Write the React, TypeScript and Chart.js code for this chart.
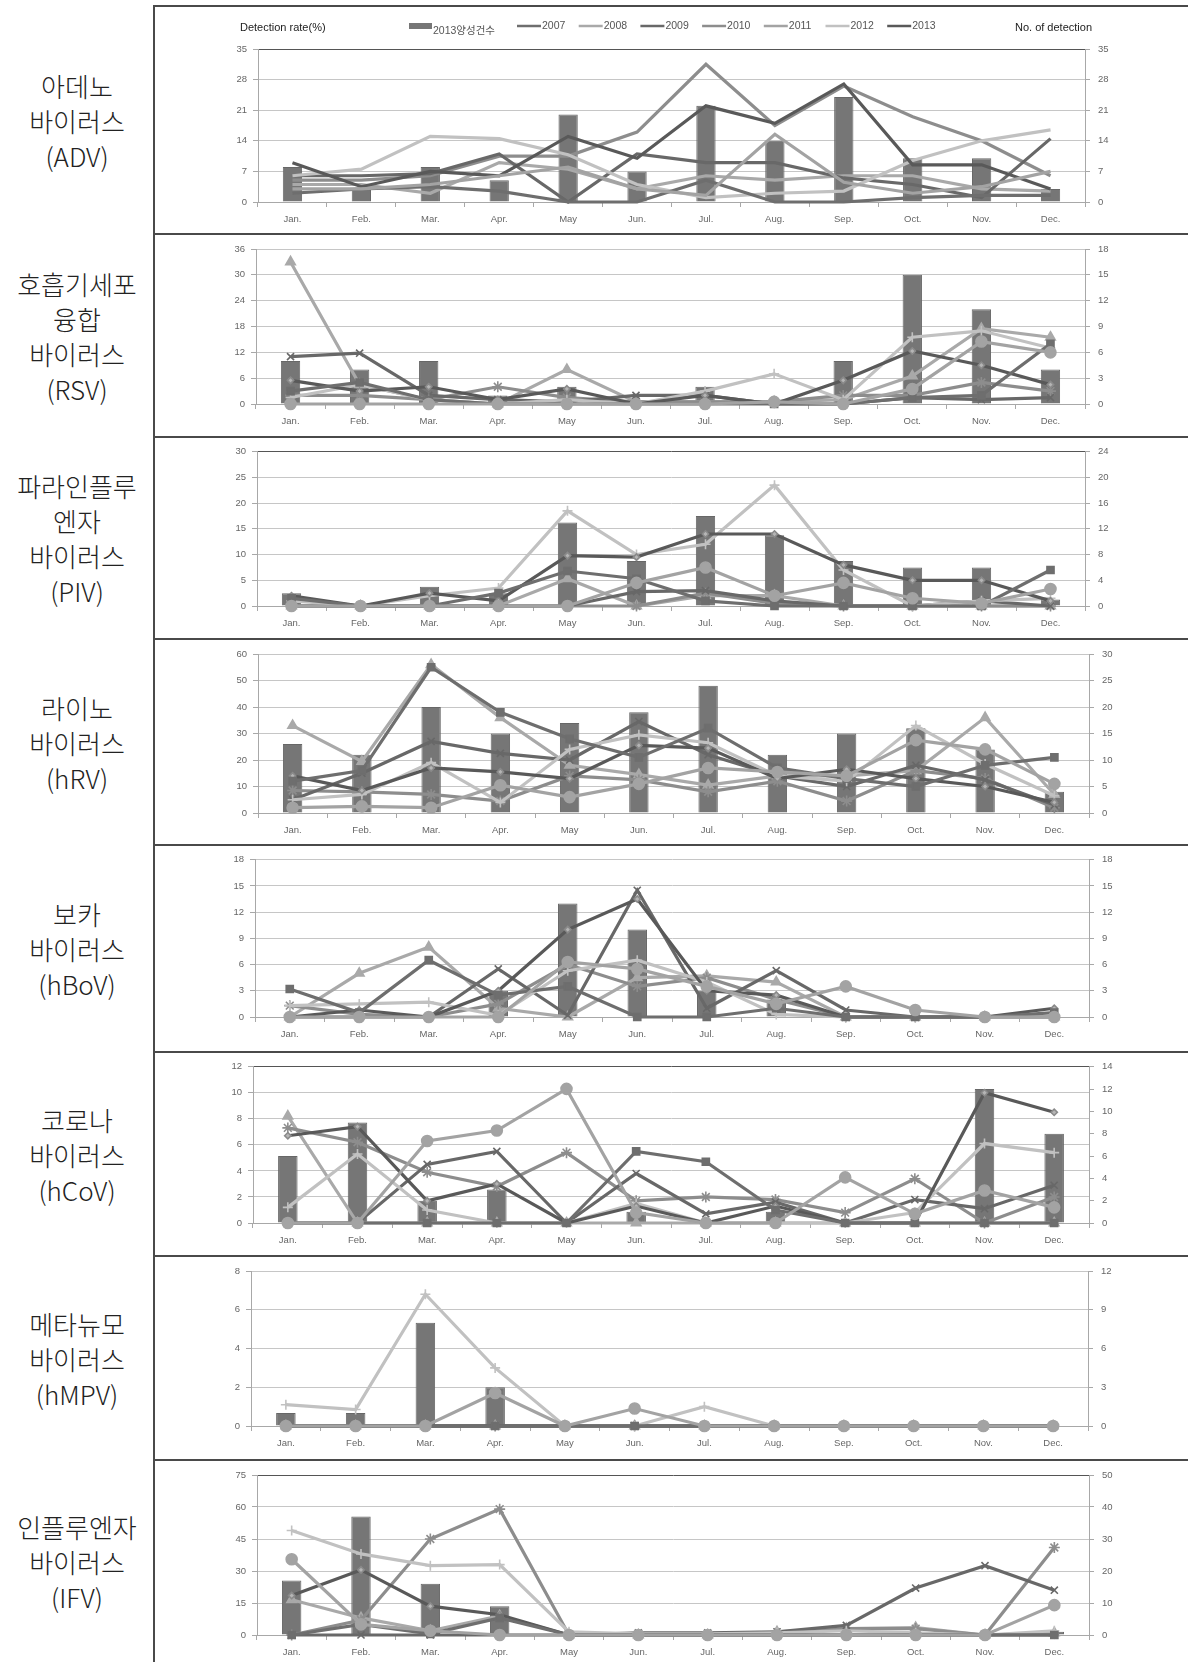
import React, { useEffect, useRef } from "react";
import { Chart, registerables } from "chart.js";

Chart.register(...registerables);

// ---- data ----
const MONTHS = ["Jan.", "Feb.", "Mar.", "Apr.", "May", "Jun.", "Jul.", "Aug.", "Sep.", "Oct.", "Nov.", "Dec."];
const YEARS = ["2007", "2008", "2009", "2010", "2011", "2012", "2013"];
const BAR_LABEL = "2013양성건수";
const LEFT_TITLE = "Detection rate(%)";
const RIGHT_TITLE = "No. of detection";

// adenovirus
const ADV_NAME = ["아데노", "바이러스", "(ADV)"];
const ADV_COUNTS = [8, 3, 8, 5, 20, 7, 22, 14, 24, 10, 10, 3];
const ADV_RATES = [
  [2, 3, 3.5, 2.5, 0, 0, 5, 0, 0, 1, 1.5, 1.5],
  [4, 4, 2, 9, 7.5, 3, 6, 5, 6, 6, 3, 2.5],
  [6, 6, 6.5, 11, 0, 11, 9, 9, 5.5, 4, 1, 14.5],
  [5, 5, 6, 10.5, 10.5, 16, 31.5, 17.5, 26.5, 19.5, 14, 6],
  [3, 3, 4, 6, 8, 3, 1.5, 15.5, 4.5, 2, 3.5, 7],
  [6, 7.5, 15, 14.5, 10.8, 4, 1, 2, 2.5, 9.5, 14, 16.5],
  [9, 3.5, 7, 6, 15, 10, 22, 18, 27, 8.5, 8.5, 3],
];
const ADV_LEFT_TICKS = [35, 7];
const ADV_RIGHT_TICKS = [35, 7];

// respiratory syncytial virus
const RSV_NAME = ["호흡기세포", "융합", "바이러스", "(RSV)"];
const RSV_COUNTS = [5, 4, 5, 1, 2, 0, 2, 0, 5, 15, 11, 4];
const RSV_RATES = [
  [3, 5, 1, 0, 0, 0, 0, 0, 0, 1.5, 2, 14],
  [33, 4.5, 1, 0, 8, 0.5, 0.5, 0.5, 1, 6.5, 17.5, 15.5],
  [11, 11.8, 2, 1, 0.5, 2, 2, 0, 0, 1.5, 1, 1.5],
  [2, 2, 1, 4, 1.5, 0.5, 0.5, 0.5, 2, 2, 5, 3],
  [0, 0, 0, 0, 0, 0, 0, 0.5, 0, 3.5, 14.5, 12],
  [1.5, 4.5, 1, 0, 1, 0, 3, 7, 1, 15.5, 17, 13],
  [5.5, 3, 4, 1, 3.5, 0, 2, 0, 5.5, 12.3, 9, 4.5],
];
const RSV_LEFT_TICKS = [36, 6];
const RSV_RIGHT_TICKS = [18, 3];

// parainfluenza virus
const PIV_NAME = ["파라인플루", "엔자", "바이러스", "(PIV)"];
const PIV_COUNTS = [2, 0, 3, 2, 13, 7, 14, 11, 7, 6, 6, 1];
const PIV_RATES = [
  [1.5, 0, 0, 2.5, 6.8, 5.3, 1, 0, 0, 0, 0, 7],
  [0, 0, 0, 0, 5.3, 0, 2, 2, 0, 0, 0, 0],
  [0, 0, 0, 0, 0, 2.8, 3, 1, 0, 0, 1, 0],
  [0, 0, 0, 0, 0, 0, 2.5, 0.5, 0, 0, 0, 0],
  [0, 0, 0, 0, 0, 4.5, 7.5, 2, 4.5, 1.5, 0.5, 3.3],
  [1, 0, 2, 3.5, 18.5, 10, 12, 23.5, 7, 0, 1, 1.5],
  [2, 0, 2.5, 1, 9.8, 9.5, 14, 14, 8, 5, 5, 1],
];
const PIV_LEFT_TICKS = [30, 5];
const PIV_RIGHT_TICKS = [24, 4];

// rhinovirus
const HRV_NAME = ["라이노", "바이러스", "(hRV)"];
const HRV_COUNTS = [13, 11, 20, 15, 17, 19, 24, 11, 15, 16, 12, 4];
const HRV_RATES = [
  [12, 16, 55, 38, 28, 21, 32, 17, 13, 10, 18, 21],
  [33, 19.5, 56, 36, 18, 14.5, 10.5, 14, 14, 16, 36, 7],
  [5, 15, 27, 22.5, 20, 34.5, 22, 14, 10, 18, 12.5, 3],
  [8.5, 8, 7, 4.5, 14, 12.5, 8, 12, 4.5, 16, 13, 2],
  [2, 2.5, 2, 10.5, 6, 11, 17, 15.5, 14, 27.5, 24, 11],
  [5, 7, 19, 4, 24, 29.5, 26.5, 14, 12, 33, 18.5, 6.5],
  [14, 8.5, 17, 15.5, 13, 25.5, 24.5, 13, 16.5, 13, 10, 4],
];
const HRV_LEFT_TICKS = [60, 10];
const HRV_RIGHT_TICKS = [30, 5];

// bocavirus
const HBOV_NAME = ["보카", "바이러스", "(hBoV)"];
const HBOV_COUNTS = [0, 0, 0, 3, 13, 10, 3, 2, 0, 0, 0, 0];
const HBOV_RATES = [
  [3.2, 0.5, 6.5, 2.5, 3.5, 0, 0, 1, 0, 0, 0, 0.5],
  [0, 5, 8, 1, 0, 4.5, 4.7, 4, 0, 0, 0, 0],
  [0, 0, 0, 5.5, 0.2, 14.5, 1, 5.3, 0.8, 0, 0, 0],
  [1.3, 0.3, 0, 1.5, 6, 3.5, 4.5, 2, 0, 0, 0, 0],
  [0, 0, 0, 0, 6.3, 5.5, 3.5, 1.5, 3.5, 0.8, 0, 0],
  [1.3, 1.5, 1.7, 0.2, 5.3, 6.5, 4, 0.3, 0, 0, 0, 0],
  [0, 0.8, 0, 3, 10, 13.5, 3, 2.5, 0, 0, 0, 1],
];
const HBOV_LEFT_TICKS = [18, 3];
const HBOV_RIGHT_TICKS = [18, 3];

// coronavirus
const HCOV_NAME = ["코로나", "바이러스", "(hCoV)"];
const HCOV_COUNTS = [6, 9, 2, 3, 0, 1, 0, 1, 0, 0, 12, 8];
const HCOV_RATES = [
  [0, 0, 0, 0, 0, 5.5, 4.7, 1, 0, 0, 0, 0],
  [8.2, 0, 0, 0, 0, 0, 0, 0, 0, 0, 0, 0],
  [0, 0, 4.5, 5.5, 0, 3.8, 0.7, 1.6, 0, 1.8, 1.1, 2.9],
  [7.3, 6.2, 3.9, 2.8, 5.4, 1.7, 2, 1.8, 0.8, 3.4, 0, 2],
  [0, 0, 6.3, 7.1, 10.3, 0.8, 0, 0, 3.5, 0.7, 2.5, 1.2],
  [1.2, 5.3, 1, 0, 0, 1.5, 0, 0, 0, 0.8, 6.1, 5.4],
  [6.7, 7.4, 1.7, 3, 0, 1.3, 0, 1.3, 0, 0, 10, 8.5],
];
const HCOV_LEFT_TICKS = [12, 2];
const HCOV_RIGHT_TICKS = [14, 2];

// metapneumovirus
const HMPV_NAME = ["메타뉴모", "바이러스", "(hMPV)"];
const HMPV_COUNTS = [1, 1, 8, 3, 0, 0, 0, 0, 0, 0, 0, 0];
const HMPV_RATES = [
  [0, 0, 0, 0, 0, 0, 0, 0, 0, 0, 0, 0],
  [0, 0, 0, 0, 0, 0, 0, 0, 0, 0, 0, 0],
  [0, 0, 0, 0, 0, 0, 0, 0, 0, 0, 0, 0],
  [0, 0, 0, 0, 0, 0, 0, 0, 0, 0, 0, 0],
  [0, 0, 0, 1.7, 0, 0.9, 0, 0, 0, 0, 0, 0],
  [1.1, 0.85, 6.8, 3, 0, 0, 1, 0, 0, 0, 0, 0],
  [0, 0, 0, 0, 0, 0, 0, 0, 0, 0, 0, 0],
];
const HMPV_LEFT_TICKS = [8, 2];
const HMPV_RIGHT_TICKS = [12, 3];

// influenza virus
const IFV_NAME = ["인플루엔자", "바이러스", "(IFV)"];
const IFV_COUNTS = [17, 37, 16, 9, 0, 0, 0, 0, 0, 0, 0, 1];
const IFV_RATES = [
  [0, 5, 0.5, 8, 0, 0, 0, 0, 0, 0, 0, 0],
  [16.5, 8, 2, 9, 0, 0, 0, 1.5, 3, 3.5, 0, 1],
  [0, 0, 0, 0, 0, 1, 1, 1.5, 4.5, 22, 32.5, 21],
  [0, 7, 45, 59, 0, 0, 0, 0, 3, 3, 0, 41],
  [35.5, 5, 2, 0, 0, 0, 0, 0, 0, 0, 0, 14],
  [49, 38, 32.5, 33, 1.5, 0.5, 0.5, 1, 2, 1, 0, 2],
  [18.5, 30.5, 13.5, 9.5, 0, 0, 0, 0, 0, 0, 0, 0],
];
const IFV_LEFT_TICKS = [75, 15];
const IFV_RIGHT_TICKS = [50, 10];

const PANELS = [
  { name: ADV_NAME, counts: ADV_COUNTS, rates: ADV_RATES, leftTicks: ADV_LEFT_TICKS, rightTicks: ADV_RIGHT_TICKS },
  { name: RSV_NAME, counts: RSV_COUNTS, rates: RSV_RATES, leftTicks: RSV_LEFT_TICKS, rightTicks: RSV_RIGHT_TICKS },
  { name: PIV_NAME, counts: PIV_COUNTS, rates: PIV_RATES, leftTicks: PIV_LEFT_TICKS, rightTicks: PIV_RIGHT_TICKS },
  { name: HRV_NAME, counts: HRV_COUNTS, rates: HRV_RATES, leftTicks: HRV_LEFT_TICKS, rightTicks: HRV_RIGHT_TICKS },
  { name: HBOV_NAME, counts: HBOV_COUNTS, rates: HBOV_RATES, leftTicks: HBOV_LEFT_TICKS, rightTicks: HBOV_RIGHT_TICKS },
  { name: HCOV_NAME, counts: HCOV_COUNTS, rates: HCOV_RATES, leftTicks: HCOV_LEFT_TICKS, rightTicks: HCOV_RIGHT_TICKS },
  { name: HMPV_NAME, counts: HMPV_COUNTS, rates: HMPV_RATES, leftTicks: HMPV_LEFT_TICKS, rightTicks: HMPV_RIGHT_TICKS },
  { name: IFV_NAME, counts: IFV_COUNTS, rates: IFV_RATES, leftTicks: IFV_LEFT_TICKS, rightTicks: IFV_RIGHT_TICKS },
];

// ---- layout & styling ----
const PAGE_W = 1188;
const PAGE_H = 1662;
const LABEL_COL_W = 154;
const CANVAS_LEFT = 156;
const CANVAS_W = PAGE_W - CANVAS_LEFT;

// row bounds, plot top / zero line, plot left / right (page pixels)
const FRAMES = [
  { top: 6, bottom: 234, gridTop: 49, zero: 202, left: 258, right: 1085, darkTop: true },
  { top: 234, bottom: 437, gridTop: 249, zero: 404, left: 256, right: 1085, darkTop: false },
  { top: 437, bottom: 639, gridTop: 450, zero: 606, left: 257, right: 1085, darkTop: true },
  { top: 639, bottom: 845, gridTop: 654, zero: 813, left: 258, right: 1089, darkTop: false },
  { top: 845, bottom: 1052, gridTop: 859, zero: 1017, left: 255, right: 1089, darkTop: false },
  { top: 1052, bottom: 1256, gridTop: 1066, zero: 1223, left: 253, right: 1089, darkTop: true },
  { top: 1256, bottom: 1460, gridTop: 1271, zero: 1426, left: 251, right: 1088, darkTop: false },
  { top: 1460, bottom: 1662, gridTop: 1475, zero: 1635, left: 257, right: 1089, darkTop: true },
];

const SERIES_COLORS = ["#6e6e6e", "#a9a9a9", "#686868", "#8d8d8d", "#a3a3a3", "#c1c1c1", "#595959"];
const SERIES_FILLS = ["#6e6e6e", "#a9a9a9", "#686868", "#8d8d8d", "#a3a3a3", "#c1c1c1", "#b5b5b5"];
const SERIES_MARKERS = ["rect", "triangle", "crossRot", "star", "circle", "cross", "rectRot"];
const SERIES_MARKER_R = [5, 5.5, 5, 5.5, 5.5, 5, 3.2];
const SERIES_ORDER = [2, 7, 5, 6, 1, 4, 3];
const BAR_COLOR = "#767676";
const GRID_COLOR = "#c6c6c6";
const AXIS_COLOR = "#a8a8a8";
const TICK_COLOR = "#666666";
const FONT_FAMILY = "'Liberation Sans', Arial, 'Noto Sans CJK KR', sans-serif";

// legend and axis headings drawn above the first plot
const headerPlugin = {
  id: "panelHeader",
  afterDraw(chart: any) {
    const ctx = chart.ctx as CanvasRenderingContext2D;
    const ox = CANVAS_LEFT;
    const oy = FRAMES[0].top + 1;
    ctx.save();
    ctx.textBaseline = "middle";
    ctx.fillStyle = "#222";
    ctx.font = `11px ${FONT_FAMILY}`;
    ctx.textAlign = "left";
    ctx.fillText(LEFT_TITLE, 240 - ox, 28 - oy);
    ctx.textAlign = "right";
    ctx.fillText(RIGHT_TITLE, 1092 - ox, 28 - oy);

    ctx.textAlign = "left";
    ctx.fillStyle = BAR_COLOR;
    ctx.fillRect(409 - ox, 23 - oy, 23, 6);
    ctx.fillStyle = "#555";
    ctx.font = `10.5px ${FONT_FAMILY}`;
    ctx.fillText(BAR_LABEL, 433 - ox, 31 - oy);

    YEARS.forEach((y, i) => {
      const x0 = 517 + i * 61.7 - ox;
      ctx.strokeStyle = SERIES_COLORS[i];
      ctx.lineWidth = 2.5;
      ctx.beginPath();
      ctx.moveTo(x0, 26 - oy);
      ctx.lineTo(x0 + 24, 26 - oy);
      ctx.stroke();
      ctx.fillStyle = "#555";
      ctx.fillText(y, x0 + 25, 26 - oy);
    });
    ctx.restore();
  },
};

function VirusChart({ index }: { index: number }) {
  const ref = useRef<HTMLCanvasElement | null>(null);
  const frame = FRAMES[index];
  const canvasTop = frame.top + 1;
  const canvasHeight = frame.bottom - canvasTop;

  useEffect(() => {
    const panel = PANELS[index];
    const tickFont = { family: FONT_FAMILY, size: 9.5 };
    const [leftMax, leftStep] = panel.leftTicks;
    const [rightMax, rightStep] = panel.rightTicks;
    const showMarkers = index !== 0;

    const datasets: any[] = [
      {
        type: "bar",
        label: BAR_LABEL,
        data: panel.counts,
        yAxisID: "y1",
        backgroundColor: BAR_COLOR,
        borderColor: "#676767",
        borderWidth: 1,
        barPercentage: 0.28,
        categoryPercentage: 1,
        order: 20,
      },
      ...YEARS.map((year, i) => ({
        type: "line",
        label: year,
        data: panel.rates[i],
        yAxisID: "y",
        borderColor: SERIES_COLORS[i],
        backgroundColor: SERIES_FILLS[i],
        borderWidth: 3.2,
        tension: 0,
        pointStyle: SERIES_MARKERS[i],
        pointRadius: showMarkers ? SERIES_MARKER_R[i] : 0,
        pointBorderWidth: 1.6,
        pointBorderColor: i === 6 ? "#8a8a8a" : SERIES_COLORS[i],
        pointBackgroundColor: SERIES_FILLS[i],
        order: SERIES_ORDER[i],
        clip: false,
      })),
    ];

    const chart = new Chart(ref.current as HTMLCanvasElement, {
      type: "bar",
      data: { labels: MONTHS, datasets },
      plugins: index === 0 ? [headerPlugin] : [],
      options: {
        animation: false,
        responsive: false,
        maintainAspectRatio: false,
        devicePixelRatio: 1,
        events: [],
        layout: { padding: { top: frame.gridTop - canvasTop, left: 0, right: 0, bottom: 0 } },
        plugins: { legend: { display: false }, tooltip: { enabled: false }, title: { display: false } },
        scales: {
          x: {
            offset: true,
            grid: { display: true, drawOnChartArea: false, drawTicks: true, tickLength: 5, color: AXIS_COLOR, offset: true },
            border: { color: AXIS_COLOR, width: 1 },
            ticks: { font: tickFont, color: TICK_COLOR, padding: 7, maxRotation: 0, autoSkip: false },
            afterFit: (s: any) => {
              s.height = canvasHeight - (frame.zero - canvasTop);
            },
          },
          y: {
            position: "left",
            min: 0,
            max: leftMax,
            ticks: { stepSize: leftStep, font: tickFont, color: TICK_COLOR, padding: 6 },
            grid: {
              color: (c: any) => (frame.darkTop && c.tick && c.tick.value === leftMax ? "#555555" : GRID_COLOR),
              tickColor: AXIS_COLOR,
              tickLength: 5,
              lineWidth: 1,
            },
            border: { color: AXIS_COLOR, width: 1 },
            afterFit: (s: any) => {
              s.width = frame.left - CANVAS_LEFT;
            },
          },
          y1: {
            position: "right",
            min: 0,
            max: rightMax,
            ticks: { stepSize: rightStep, font: tickFont, color: TICK_COLOR, padding: 8 },
            grid: { drawOnChartArea: false, drawTicks: true, tickLength: 5, color: AXIS_COLOR },
            border: { color: AXIS_COLOR, width: 1 },
            afterFit: (s: any) => {
              s.width = PAGE_W - frame.right;
            },
          },
        },
      } as any,
    } as any);

    return () => chart.destroy();
  }, [index]);

  return (
    <canvas
      ref={ref}
      width={CANVAS_W}
      height={canvasHeight}
      style={{ position: "absolute", left: CANVAS_LEFT, top: canvasTop, width: CANVAS_W, height: canvasHeight }}
    />
  );
}

export default function App() {
  return (
    <div style={{ position: "relative", width: PAGE_W, height: PAGE_H, background: "#fff", overflow: "hidden" }}>
      <style>{"body{margin:0;background:#fff}"}</style>
      {PANELS.map((p, i) => (
        <div
          key={`name-${i}`}
          style={{
            position: "absolute",
            left: 0,
            top: FRAMES[i].top,
            width: LABEL_COL_W,
            height: FRAMES[i].bottom - FRAMES[i].top,
            display: "flex",
            flexDirection: "column",
            justifyContent: "center",
            alignItems: "center",
            fontFamily: "'Noto Sans CJK KR', 'Noto Sans', sans-serif",
            fontSize: 26,
            fontWeight: 300,
            lineHeight: "35px",
            color: "#222",
          }}
        >
          {p.name.map((line, j) => (
            <div key={j}>{line}</div>
          ))}
        </div>
      ))}
      {PANELS.map((_, i) => (
        <VirusChart key={`chart-${i}`} index={i} />
      ))}
      <div style={{ position: "absolute", left: LABEL_COL_W - 1, top: FRAMES[0].top - 1, width: 2, height: PAGE_H - FRAMES[0].top + 1, background: "#4a4a4a" }} />
      {FRAMES.map((f, i) => (
        <div
          key={`rule-${i}`}
          style={{ position: "absolute", left: LABEL_COL_W - 1, top: f.top - 1, width: PAGE_W - LABEL_COL_W + 1, height: 2, background: "#4a4a4a" }}
        />
      ))}
    </div>
  );
}
